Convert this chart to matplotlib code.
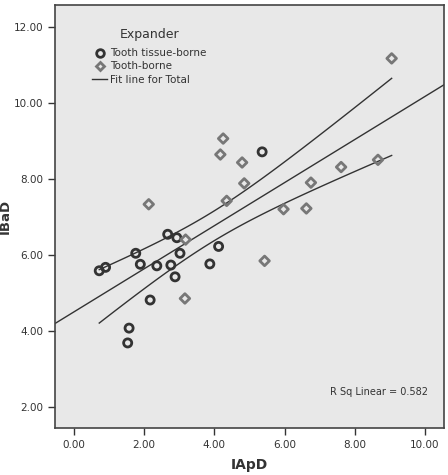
import numpy as np
import matplotlib
matplotlib.use("Agg")
import matplotlib.pyplot as plt
from matplotlib.lines import Line2D

# Tooth tissue-borne expander
tissue_x = [0.72, 0.90, 1.76, 1.89, 2.36, 2.67, 2.93, 2.76, 3.02, 2.88, 2.17, 3.87, 4.12, 1.57, 1.53, 5.36]
tissue_y = [5.59, 5.68, 6.05, 5.76, 5.72, 6.55, 6.46, 5.74, 6.05, 5.43, 4.82, 5.77, 6.23, 4.08, 3.69, 8.72]

# Tooth-borne expander
tooth_x = [2.13, 3.18, 3.16, 4.25, 4.17, 4.79, 4.85, 4.35, 5.43, 5.97, 6.62, 6.75, 7.61, 8.66, 9.05]
tooth_y = [7.34, 6.41, 4.86, 9.07, 8.65, 8.44, 7.89, 7.43, 5.85, 7.21, 7.23, 7.91, 8.32, 8.51, 11.18]

x_ticks = [0, 2, 4, 6, 8, 10]
y_ticks = [2, 4, 6, 8, 10, 12]
T_CRIT = 2.045  # t(0.975, df=29)

all_x = np.array(tissue_x + tooth_x)
all_y = np.array(tissue_y + tooth_y)
n = len(all_x)
slope, icpt = np.polyfit(all_x, all_y, 1)
resid = all_y - (slope * all_x + icpt)
s = np.sqrt(np.sum(resid ** 2) / (n - 2))
sxx = np.sum((all_x - all_x.mean()) ** 2)
r2 = 1 - np.sum(resid ** 2) / np.sum((all_y - all_y.mean()) ** 2)

fig = plt.figure(figsize=(4.48, 4.75), dpi=100)
ax = fig.add_axes([0.1228, 0.0989, 0.8682, 0.8901])
ax.set_facecolor("#e8e8e8")
for sp in ax.spines.values():
    sp.set_color("#444444")
    sp.set_linewidth(1.2)

xlim = (-0.54, 10.54)
ax.set_xlim(*xlim)
ax.set_ylim(1.45, 12.58)

# fit line across the plot
xs = np.array(xlim)
ax.plot(xs, slope * xs + icpt, color="#333333", lw=1.0, zorder=2)

# 95% confidence band for the mean
xg = np.linspace(all_x.min(), all_x.max(), 100)
half = T_CRIT * s * np.sqrt(1 / n + (xg - all_x.mean()) ** 2 / sxx)
ax.plot(xg, slope * xg + icpt + half, color="#333333", lw=1.0, zorder=2)
ax.plot(xg, slope * xg + icpt - half, color="#333333", lw=1.0, zorder=2)

ax.scatter(tissue_x, tissue_y, s=34, facecolors="none", edgecolors="#333333", linewidths=2.0, zorder=3)
ax.scatter(tooth_x, tooth_y, s=24, marker="D", facecolors="none", edgecolors="#777777", linewidths=2.0, zorder=3)

ax.set_xticks(x_ticks)
ax.set_xticklabels(["%.2f" % v for v in x_ticks])
ax.set_yticks(y_ticks)
ax.set_yticklabels(["%.2f" % v for v in y_ticks])
ax.tick_params(direction="out", length=5, width=1, colors="#333333", labelsize=7.5, labelcolor="#333333")

ax.set_xlabel("IApD", fontsize=10, fontweight="bold", color="#333333", labelpad=6)
ax.set_ylabel("IBaD", fontsize=9.5, fontweight="bold", color="#333333")
ax.yaxis.set_label_coords(-0.112, 0.5)

ax.text(7.3, 2.4, "R Sq Linear = %.3f" % r2, fontsize=7, color="#333333", va="center")

handles = [
    Line2D([], [], marker="o", ls="none", mfc="none", mec="#333333", mew=2.0, ms=5.5),
    Line2D([], [], marker="D", ls="none", mfc="none", mec="#777777", mew=2.0, ms=4.5),
    Line2D([], [], color="#333333", lw=1.0),
]
leg = ax.legend(handles, ["Tooth tissue-borne", "Tooth-borne", "Fit line for Total"],
                title="Expander", loc="upper left", bbox_to_anchor=(0.085, 0.955),
                frameon=False, fontsize=7.5, title_fontsize=9, handlelength=1.4,
                handletextpad=0.3, labelspacing=0.3, borderaxespad=0)
leg.get_title().set_color("#333333")
leg._legend_box.sep = 5
for t in leg.get_texts():
    t.set_color("#333333")

fig.savefig("out.png", dpi=100)
